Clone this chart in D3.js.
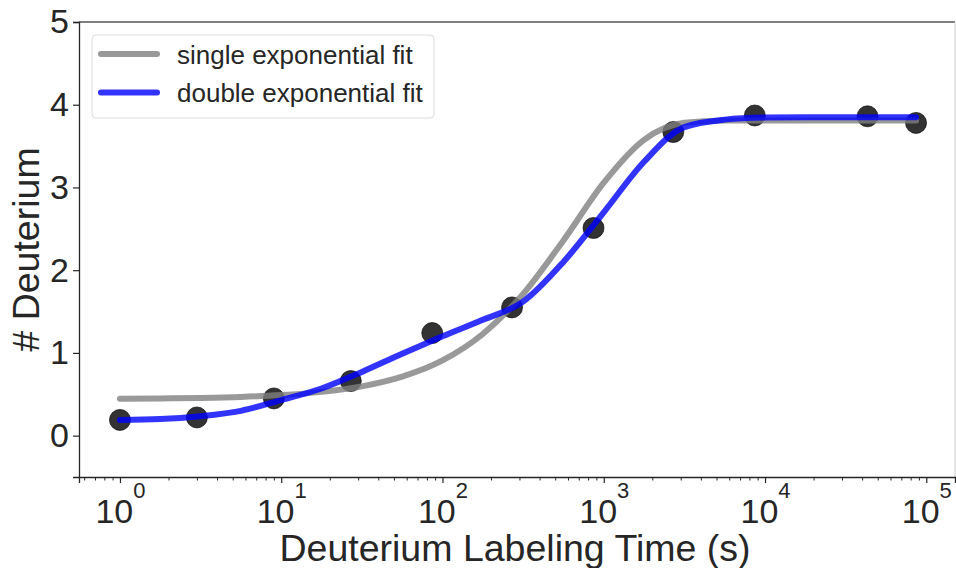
<!DOCTYPE html>
<html>
<head>
<meta charset="utf-8">
<script src="https://cdn.jsdelivr.net/npm/d3@7"></script>
<style>
  body { margin: 0; background: #fff; }
  text { font-family: "Liberation Sans", Arial, sans-serif; fill: #262626; }
</style>
</head>
<body>
<svg id="chart" width="956" height="568"></svg>
<script>
// measured points
const times = [1, 3, 9, 27, 86.4, 270, 864, 2700, 8640, 43200, 86400];
const deuterium = [0.19, 0.22, 0.45, 0.66, 1.24, 1.55, 2.51, 3.67, 3.87, 3.86, 3.78];

// fitted curves
const fitTimes = [1, 1.778, 3.162, 5.623, 10, 17.78, 31.62, 56.23, 100, 177.8, 316.2, 562.3,
  1000, 1778, 3162, 5623, 10000, 17780, 31620, 56230, 86400];
const singleFit = [0.445, 0.449, 0.456, 0.468, 0.49, 0.529, 0.596, 0.713, 0.909, 1.229, 1.713, 2.36,
  3.058, 3.576, 3.781, 3.809, 3.81, 3.81, 3.81, 3.81, 3.81];
const doubleFit = [0.19, 0.2, 0.235, 0.3, 0.43, 0.57, 0.77, 0.99, 1.2, 1.4, 1.62, 2.1,
  2.7, 3.31, 3.73, 3.82, 3.845, 3.85, 3.85, 3.85, 3.85];

const yTicks = [0, 1, 2, 3, 4, 5];
const xTicks = [1, 10, 100, 1000, 10000, 100000];

const legendItems = [
  { label: "single exponential fit", color: "gray" },
  { label: "double exponential fit", color: "blue" }
];

const plotL = 79, plotR = 955, plotT = 22, plotB = 477;

const svg = d3.select("#chart");

const x = d3.scaleLog().domain([Math.pow(10, -0.254), Math.pow(10, 5.178)]).range([plotL, plotR]);
const y = d3.scaleLinear().domain([-0.5, 5]).range([plotB, plotT]);

// frame: top dark, right light
svg.append("line").attr("x1", plotL).attr("x2", plotR).attr("y1", plotT).attr("y2", plotT)
  .attr("stroke", "#555").attr("stroke-width", 1.6);
svg.append("line").attr("x1", plotR).attr("x2", plotR).attr("y1", plotT).attr("y2", plotB)
  .attr("stroke", "#ccc").attr("stroke-width", 1);

// y axis
const yAxis = svg.append("g")
  .attr("transform", `translate(${plotL},0)`)
  .call(d3.axisLeft(y).tickValues(yTicks).tickFormat(d3.format("d")).tickSize(6).tickPadding(4));
yAxis.select(".domain").attr("stroke", "#262626").attr("stroke-width", 1.3);
yAxis.selectAll(".tick line").attr("stroke", "#262626").attr("stroke-width", 1.2);
yAxis.selectAll(".tick text")
  .attr("font-size", 34).attr("fill", "#262626")
  .attr("font-family", "Liberation Sans, Arial, sans-serif");

// x axis, minor ticks first
const minor = [];
for (let e = -1; e <= 5; e++) {
  for (let m = 2; m <= 9; m++) {
    const v = m * Math.pow(10, e);
    if (v > x.domain()[0] && v < x.domain()[1]) minor.push(v);
  }
}
const xAxisMinor = svg.append("g")
  .attr("transform", `translate(0,${plotB})`)
  .call(d3.axisBottom(x).tickValues(minor).tickSize(3.5).tickFormat(""));
xAxisMinor.select(".domain").remove();
xAxisMinor.selectAll(".tick line").attr("stroke", "#262626").attr("stroke-width", 1);

const xAxis = svg.append("g")
  .attr("transform", `translate(0,${plotB})`)
  .call(d3.axisBottom(x).tickValues(xTicks).tickSize(6).tickFormat(""));
xAxis.select(".domain").attr("stroke", "#262626").attr("stroke-width", 1.3);
xAxis.selectAll(".tick line").attr("stroke", "#262626").attr("stroke-width", 1.2);

// 10^n labels
const xl = xAxis.selectAll(".tick").append("text")
  .attr("y", 46)
  .attr("text-anchor", "middle")
  .attr("fill", "#262626")
  .attr("font-size", 34);
xl.append("tspan").text("10");
xl.append("tspan")
  .attr("font-size", 22)
  .attr("dy", -25)
  .text(d => Math.round(Math.log10(d)));

// axis titles
svg.append("text")
  .attr("x", (plotL + plotR) / 2 - 2)
  .attr("y", 561)
  .attr("text-anchor", "middle")
  .attr("font-size", 37.5)
  .text("Deuterium Labeling Time (s)");

svg.append("text")
  .attr("transform", `translate(39,${(plotT + plotB) / 2}) rotate(-90)`)
  .attr("text-anchor", "middle")
  .attr("font-size", 37.5)
  .text("# Deuterium");

// data points
svg.selectAll("circle.pt")
  .data(times)
  .enter()
  .append("circle")
  .attr("class", "pt")
  .attr("cx", d => x(d))
  .attr("cy", (d, i) => y(deuterium[i]))
  .attr("r", 10.5)
  .attr("fill", "#000")
  .attr("fill-opacity", 0.8)
  .attr("stroke", "#000")
  .attr("stroke-opacity", 0.8)
  .attr("stroke-width", 0.8);

// fit lines
const line = d3.line()
  .x(d => x(d[0]))
  .y(d => y(d[1]))
  .curve(d3.curveMonotoneX);

svg.append("path")
  .datum(fitTimes.map((t, i) => [t, singleFit[i]]))
  .attr("fill", "none")
  .attr("stroke", "gray")
  .attr("stroke-opacity", 0.8)
  .attr("stroke-width", 6)
  .attr("stroke-linecap", "round")
  .attr("d", line);

svg.append("path")
  .datum(fitTimes.map((t, i) => [t, doubleFit[i]]))
  .attr("fill", "none")
  .attr("stroke", "blue")
  .attr("stroke-opacity", 0.8)
  .attr("stroke-width", 6)
  .attr("stroke-linecap", "round")
  .attr("d", line);

// legend
const legend = svg.append("g").attr("transform", "translate(92,35)");
legend.append("rect")
  .attr("width", 342).attr("height", 83)
  .attr("rx", 4)
  .attr("fill", "#fff").attr("fill-opacity", 0.8)
  .attr("stroke", "#dcdcdc").attr("stroke-width", 1);

const item = legend.selectAll("g.item")
  .data(legendItems)
  .enter()
  .append("g")
  .attr("class", "item")
  .attr("transform", (d, i) => `translate(0,${19 + i * 38.5})`);
item.append("line")
  .attr("x1", 9).attr("x2", 65)
  .attr("stroke", d => d.color)
  .attr("stroke-opacity", 0.8)
  .attr("stroke-width", 6)
  .attr("stroke-linecap", "round");
item.append("text")
  .attr("x", 85)
  .attr("y", 9.5)
  .attr("font-size", 26)
  .text(d => d.label);
</script>
</body>
</html>
